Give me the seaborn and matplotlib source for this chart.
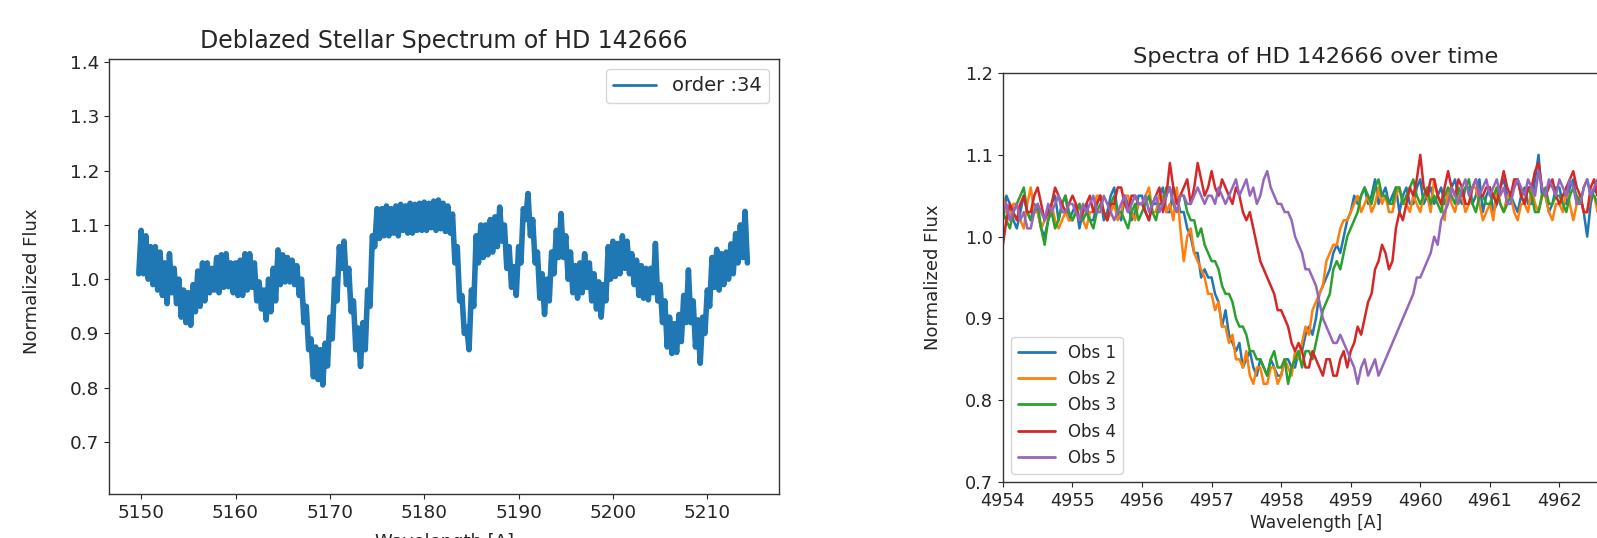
import numpy as np
import pandas as pd
import matplotlib
matplotlib.use("Agg")
import matplotlib.pyplot as plt
from matplotlib.ticker import MultipleLocator
import seaborn as sns

sns.set_style("ticks")
plt.rcParams['font.family'] = ['DejaVu Sans']

# ---- left panel: deblazed spectrum, echelle order 34 (0.25 A sampling, upper/lower edges of the noisy trace) ----
order34_start, order34_step = 5149.75, 0.25
order34_flux = [
    1.01,
    1.09, 1.01, 1.08, 1.00,   # 5150
    1.06, 0.99, 1.06, 0.98,
    1.05, 0.97, 1.03, 0.955,
    1.047, 0.975, 1.02, 0.955,
    1.00, 0.93, 0.98, 0.92,
    0.975, 0.915, 0.99, 0.94,  # 5155
    1.015, 0.95, 1.03, 0.96,
    1.03, 0.975, 1.02, 0.98,
    1.04, 0.975, 1.045, 0.985,
    1.047, 0.986, 1.03, 0.975,
    1.03, 0.97, 1.035, 0.97,   # 5160
    1.047, 0.98, 1.047, 0.985,
    1.03, 0.96, 0.995, 0.945,
    0.98, 0.925, 1.00, 0.94,
    1.02, 0.96, 1.054, 0.99,
    1.045, 0.995, 1.04, 0.995,  # 5165
    1.035, 0.99, 1.025, 0.97,
    1.00, 0.92, 0.95, 0.87,
    0.89, 0.82, 0.875, 0.815,
    0.87, 0.805, 0.882, 0.84,
    0.93, 0.89, 1.00, 0.96,    # 5170
    1.06, 1.02, 1.07, 0.99,
    1.02, 0.94, 0.96, 0.87,
    0.91, 0.839, 0.92, 0.87,
    0.98, 0.95, 1.08, 1.06,
    1.13, 1.075, 1.13, 1.08,   # 5175
    1.135, 1.08, 1.13, 1.085,
    1.135, 1.08, 1.138, 1.09,
    1.135, 1.085, 1.14, 1.085,
    1.138, 1.09, 1.14, 1.09,
    1.142, 1.09, 1.14, 1.095,  # 5180
    1.144, 1.09, 1.146, 1.093,
    1.14, 1.088, 1.135, 1.085,
    1.12, 1.03, 1.06, 0.96,
    0.97, 0.90, 0.912, 0.87,
    0.98, 0.95, 1.08, 1.03,    # 5185
    1.10, 1.04, 1.10, 1.045,
    1.11, 1.05, 1.115, 1.06,
    1.133, 1.07, 1.10, 1.02,
    1.06, 0.985, 1.023, 0.97,
    1.06, 1.03, 1.13, 1.11,    # 5190
    1.158, 1.08, 1.11, 1.03,
    1.05, 0.965, 1.01, 0.935,
    1.00, 0.96, 1.05, 1.01,
    1.09, 1.04, 1.121, 1.04,
    1.08, 1.00, 1.05, 0.975,   # 5195
    1.025, 0.965, 1.03, 0.975,
    1.047, 0.985, 1.03, 0.96,
    1.01, 0.945, 0.995, 0.93,
    0.99, 0.96, 1.06, 1.00,
    1.07, 1.005, 1.066, 1.01,  # 5200
    1.08, 1.02, 1.07, 1.01,
    1.047, 0.99, 1.035, 0.97,
    1.025, 0.965, 1.02, 0.962,
    1.02, 0.975, 1.066, 0.96,
    0.99, 0.92, 0.96, 0.875,   # 5205
    0.93, 0.863, 0.918, 0.865,
    0.935, 0.885, 0.97, 0.92,
    1.017, 0.92, 0.96, 0.875,
    0.925, 0.845, 0.93, 0.90,
    0.98, 0.95, 1.04, 0.985,   # 5210
    1.055, 0.98, 1.047, 0.99,
    1.05, 1.00, 1.065, 1.01,
    1.084, 1.03, 1.10, 1.04,
    1.125, 1.03,
]
order34_wl = order34_start + order34_step * np.arange(len(order34_flux))

# ---- right panel: the same absorption line in five observations (0.05 A sampling) ----
obs_start, obs_step = 4954.0, 0.05
obs_labels = ["Obs 1", "Obs 2", "Obs 3", "Obs 4", "Obs 5"]
obs1 = [
    1.02, 1.05, 1.04, 1.02, 1.01, 1.03, 1.05, 1.03, 1.02, 1.04, 1.03, 1.01, 1.00, 1.02, 1.04, 1.05, 1.02, 1.04, 1.05, 1.02,
    1.03, 1.04, 1.01, 1.03, 1.04, 1.02, 1.02, 1.04, 1.05, 1.02, 1.03, 1.05, 1.06, 1.03, 1.02, 1.05, 1.04, 1.02, 1.03, 1.05,
    1.05, 1.03, 1.02, 1.04, 1.04, 1.05, 1.06, 1.03, 1.03, 1.06, 1.05, 1.03, 1.03, 1.01, 1.00, 0.98, 0.98, 0.95, 0.96, 0.95,
    0.95, 0.93, 0.92, 0.89, 0.91, 0.88, 0.87, 0.86, 0.87, 0.84, 0.85, 0.86, 0.84, 0.83, 0.85, 0.84, 0.83, 0.85, 0.84, 0.83,
    0.83, 0.85, 0.85, 0.84, 0.84, 0.86, 0.86, 0.88, 0.89, 0.88, 0.90, 0.93, 0.94, 0.95, 0.96, 0.98, 0.99, 0.98, 1.00, 1.02,
    1.03, 1.05, 1.04, 1.05, 1.06, 1.04, 1.05, 1.07, 1.04, 1.05, 1.06, 1.04, 1.05, 1.06, 1.03, 1.05, 1.06, 1.04, 1.04, 1.06,
    1.07, 1.04, 1.05, 1.06, 1.04, 1.05, 1.06, 1.04, 1.05, 1.06, 1.07, 1.05, 1.04, 1.06, 1.06, 1.04, 1.05, 1.07, 1.03, 1.05,
    1.06, 1.03, 1.04, 1.06, 1.07, 1.05, 1.05, 1.04, 1.03, 1.05, 1.06, 1.04, 1.04, 1.07, 1.10, 1.05, 1.05, 1.03, 1.04, 1.06,
    1.06, 1.04, 1.04, 1.06, 1.07, 1.04, 1.05, 1.03, 1.00, 1.04, 1.06, 1.05, 1.05, 1.03, 1.04, 1.06, 1.07, 1.05, 1.03, 1.05,
    1.05]
obs2 = [
    1.05, 1.03, 1.02, 1.04, 1.04, 1.02, 1.01, 1.04, 1.06, 1.03, 1.03, 1.01, 1.02, 1.03, 1.04, 1.02, 1.01, 1.02, 1.03, 1.02,
    1.02, 1.03, 1.04, 1.02, 1.01, 1.03, 1.03, 1.05, 1.05, 1.03, 1.02, 1.03, 1.04, 1.02, 1.03, 1.05, 1.05, 1.03, 1.02, 1.04,
    1.04, 1.05, 1.06, 1.03, 1.03, 1.05, 1.05, 1.03, 1.04, 1.02, 1.06, 1.01, 0.97, 1.00, 1.01, 0.98, 0.97, 0.96, 0.95, 0.93,
    0.93, 0.91, 0.92, 0.89, 0.89, 0.87, 0.88, 0.85, 0.85, 0.84, 0.86, 0.83, 0.82, 0.84, 0.84, 0.82, 0.82, 0.84, 0.84, 0.82,
    0.83, 0.85, 0.84, 0.83, 0.86, 0.85, 0.87, 0.89, 0.88, 0.91, 0.92, 0.93, 0.94, 0.97, 0.98, 0.99, 0.99, 1.01, 1.02, 1.02,
    1.03, 1.04, 1.05, 1.03, 1.04, 1.05, 1.03, 1.04, 1.06, 1.04, 1.05, 1.03, 1.03, 1.05, 1.06, 1.04, 1.04, 1.03, 1.05, 1.04,
    1.03, 1.05, 1.05, 1.03, 1.07, 1.05, 1.04, 1.02, 1.06, 1.04, 1.03, 1.05, 1.05, 1.03, 1.04, 1.06, 1.06, 1.04, 1.02, 1.03,
    1.04, 1.02, 1.06, 1.04, 1.03, 1.05, 1.05, 1.03, 1.02, 1.04, 1.04, 1.03, 1.06, 1.04, 1.03, 1.05, 1.05, 1.03, 1.02, 1.04,
    1.04, 1.03, 1.06, 1.04, 1.02, 1.04, 1.05, 1.03, 1.03, 1.05, 1.05, 1.03, 1.04, 1.05, 1.02, 1.04, 1.05, 1.03, 1.03, 1.05,
    1.04]
obs3 = [
    1.03, 1.02, 1.01, 1.03, 1.04, 1.05, 1.06, 1.03, 1.02, 1.03, 1.04, 1.01, 0.99, 1.02, 1.03, 1.01, 1.02, 1.04, 1.05, 1.03,
    1.02, 1.03, 1.04, 1.02, 1.03, 1.02, 1.01, 1.03, 1.04, 1.03, 1.02, 1.04, 1.05, 1.03, 1.03, 1.02, 1.01, 1.03, 1.04, 1.02,
    1.03, 1.04, 1.05, 1.03, 1.02, 1.04, 1.04, 1.06, 1.06, 1.04, 1.03, 1.05, 1.05, 1.03, 1.02, 1.02, 1.00, 1.01, 0.99, 0.98,
    0.97, 0.97, 0.96, 0.94, 0.93, 0.93, 0.92, 0.90, 0.89, 0.89, 0.88, 0.86, 0.86, 0.85, 0.85, 0.84, 0.83, 0.85, 0.86, 0.84,
    0.84, 0.85, 0.82, 0.84, 0.85, 0.86, 0.84, 0.86, 0.86, 0.85, 0.87, 0.89, 0.91, 0.92, 0.93, 0.96, 0.97, 0.96, 0.98, 1.00,
    1.01, 1.02, 1.03, 1.05, 1.06, 1.05, 1.04, 1.06, 1.07, 1.05, 1.05, 1.04, 1.04, 1.06, 1.06, 1.04, 1.05, 1.06, 1.07, 1.05,
    1.04, 1.05, 1.06, 1.04, 1.05, 1.04, 1.03, 1.05, 1.06, 1.05, 1.04, 1.06, 1.05, 1.06, 1.07, 1.04, 1.03, 1.05, 1.05, 1.04,
    1.04, 1.05, 1.06, 1.04, 1.03, 1.04, 1.05, 1.06, 1.07, 1.05, 1.04, 1.06, 1.05, 1.03, 1.03, 1.05, 1.06, 1.04, 1.04, 1.05,
    1.05, 1.04, 1.03, 1.05, 1.06, 1.05, 1.04, 1.06, 1.07, 1.05, 1.05, 1.04, 1.03, 1.04, 1.05, 1.06, 1.06, 1.05, 1.04, 1.05,
    1.05]
obs4 = [
    0.99, 1.02, 1.04, 1.03, 1.02, 1.04, 1.05, 1.03, 1.03, 1.05, 1.06, 1.04, 1.02, 1.03, 1.04, 1.06, 1.05, 1.04, 1.03, 1.04,
    1.05, 1.04, 1.02, 1.03, 1.04, 1.05, 1.03, 1.04, 1.05, 1.03, 1.02, 1.04, 1.04, 1.06, 1.06, 1.04, 1.03, 1.05, 1.05, 1.04,
    1.04, 1.03, 1.02, 1.04, 1.05, 1.06, 1.03, 1.05, 1.09, 1.06, 1.04, 1.05, 1.06, 1.07, 1.04, 1.06, 1.09, 1.07, 1.05, 1.06,
    1.08, 1.06, 1.05, 1.07, 1.06, 1.05, 1.04, 1.06, 1.05, 1.03, 1.02, 1.03, 1.01, 0.99, 0.97, 0.96, 0.95, 0.94, 0.93, 0.91,
    0.91, 0.90, 0.89, 0.87, 0.86, 0.87, 0.86, 0.84, 0.84, 0.86, 0.85, 0.84, 0.83, 0.85, 0.85, 0.83, 0.83, 0.85, 0.86, 0.84,
    0.86, 0.87, 0.89, 0.88, 0.90, 0.92, 0.93, 0.96, 0.97, 0.99, 0.98, 0.96, 0.97, 1.01, 1.03, 1.02, 1.04, 1.06, 1.05, 1.07,
    1.10, 1.06, 1.05, 1.07, 1.07, 1.05, 1.04, 1.06, 1.08, 1.06, 1.05, 1.07, 1.06, 1.04, 1.04, 1.06, 1.07, 1.05, 1.05, 1.06,
    1.06, 1.05, 1.04, 1.06, 1.08, 1.06, 1.05, 1.07, 1.07, 1.05, 1.04, 1.06, 1.06, 1.08, 1.09, 1.06, 1.05, 1.06, 1.07, 1.05,
    1.04, 1.05, 1.06, 1.07, 1.08, 1.06, 1.05, 1.03, 1.03, 1.06, 1.07, 1.05, 1.05, 1.08, 1.10, 1.06, 1.04, 1.05, 1.06, 1.05,
    1.05]
obs5 = [
    1.03, 1.04, 1.02, 1.03, 1.04, 1.02, 1.03, 1.01, 1.01, 1.03, 1.04, 1.03, 1.02, 1.04, 1.03, 1.04, 1.05, 1.03, 1.03, 1.04,
    1.04, 1.03, 1.02, 1.04, 1.03, 1.04, 1.05, 1.03, 1.03, 1.05, 1.04, 1.03, 1.02, 1.03, 1.04, 1.05, 1.03, 1.04, 1.05, 1.04,
    1.04, 1.05, 1.03, 1.04, 1.05, 1.03, 1.04, 1.05, 1.06, 1.04, 1.03, 1.05, 1.05, 1.04, 1.04, 1.05, 1.06, 1.05, 1.04, 1.05,
    1.05, 1.04, 1.06, 1.05, 1.04, 1.05, 1.06, 1.07, 1.05, 1.06, 1.07, 1.05, 1.06, 1.04, 1.05, 1.07, 1.08, 1.06, 1.05, 1.04,
    1.04, 1.03, 1.03, 1.02, 1.00, 0.99, 0.98, 0.96, 0.96, 0.95, 0.94, 0.92, 0.90, 0.89, 0.88, 0.87, 0.87, 0.88, 0.87, 0.86,
    0.85, 0.84, 0.82, 0.84, 0.85, 0.83, 0.84, 0.85, 0.83, 0.84, 0.85, 0.86, 0.87, 0.88, 0.89, 0.90, 0.91, 0.92, 0.93, 0.95,
    0.95, 0.96, 0.97, 0.98, 1.00, 0.99, 1.02, 1.03, 1.04, 1.06, 1.05, 1.04, 1.06, 1.07, 1.05, 1.06, 1.07, 1.05, 1.06, 1.07,
    1.05, 1.06, 1.07, 1.05, 1.06, 1.04, 1.04, 1.06, 1.07, 1.06, 1.05, 1.07, 1.06, 1.05, 1.08, 1.06, 1.05, 1.07, 1.06, 1.05,
    1.07, 1.06, 1.05, 1.07, 1.06, 1.04, 1.04, 1.06, 1.07, 1.05, 1.06, 1.07, 1.05, 1.06, 1.07, 1.05, 1.05, 1.06, 1.06, 1.05,
    1.06]

obs_wl = obs_start + obs_step * np.arange(len(obs1))
obs_df = pd.concat(
    [pd.DataFrame({"wavelength": obs_wl, "flux": f, "obs": lab})
     for lab, f in zip(obs_labels, [obs1, obs2, obs3, obs4, obs5])],
    ignore_index=True,
)

palette = sns.color_palette("tab10")

fig = plt.figure(figsize=(15.97, 5.38), dpi=100)
ax1 = fig.add_axes([0.0683, 0.0818, 0.4195, 0.8086])
ax2 = fig.add_axes([0.628, 0.1041, 0.392, 0.7602])

# left panel
sns.lineplot(x=order34_wl, y=order34_flux, ax=ax1, color=palette[0],
             linewidth=4.0, estimator=None, sort=False, label="order :34")
ax1.set_xlim(5146.6, 5217.6)
ax1.set_ylim(0.604, 1.406)
ax1.yaxis.set_major_locator(MultipleLocator(0.1))
ax1.set_title("Deblazed Stellar Spectrum of HD 142666", fontsize=17, pad=8)
ax1.set_xlabel("Wavelength [A]", fontsize=13, labelpad=8)
ax1.set_ylabel("Normalized Flux", fontsize=13)
ax1.yaxis.set_label_coords(-0.101, 0.49)
ax1.tick_params(labelsize=13.3)
leg1 = ax1.legend(loc="upper right", fontsize=14, handlelength=2.2)
for ln in leg1.get_lines():
    ln.set_linewidth(2.0)

# right panel
sns.lineplot(data=obs_df, x="wavelength", y="flux", hue="obs", palette=palette[:5],
             ax=ax2, linewidth=1.8, estimator=None, sort=False)
ax2.set_xlim(4954, 4963)
ax2.set_ylim(0.7, 1.2)
ax2.xaxis.set_major_locator(MultipleLocator(1))
ax2.yaxis.set_major_locator(MultipleLocator(0.1))
ax2.set_title("Spectra of HD 142666 over time", fontsize=16.2, pad=7)
ax2.set_xlabel("Wavelength [A]", fontsize=12.3, labelpad=3)
ax2.set_ylabel("Normalized Flux", fontsize=13)
ax2.yaxis.set_label_coords(-0.097, 0.5)
ax2.tick_params(labelsize=12.7)
handles, labels = ax2.get_legend_handles_labels()
leg2 = ax2.legend(handles, labels, loc="lower left", fontsize=12, handlelength=2.2)
for ln in leg2.get_lines():
    ln.set_linewidth(2.0)

for ax in (ax1, ax2):
    for s in ax.spines.values():
        s.set_color("#333333")
        s.set_linewidth(1.0)

fig.savefig("out.png", dpi=100)
